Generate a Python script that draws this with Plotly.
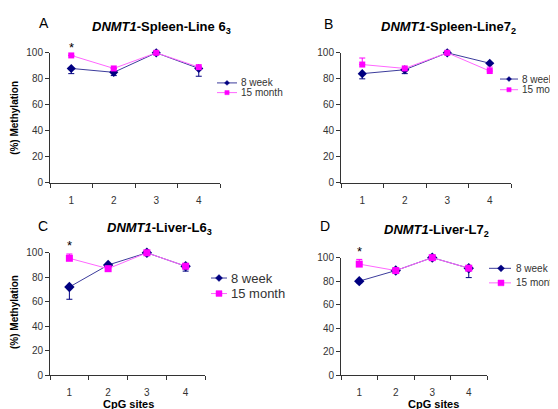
import plotly.graph_objects as go

W, H = 558, 409

sites = [1, 2, 3, 4]
site_labels = ["1", "2", "3", "4"]
yticks = [0, 20, 40, 60, 80, 100]

# Panel A: DNMT1-Spleen-Line 6_3
a_8wk = [88, 85, 100, 88]
a_8wk_err = [4, 2.5, 0, 6]
a_15m = [98, 88, 100, 89]
a_15m_err = [0, 0, 0, 0]

# Panel B: DNMT1-Spleen-Line7_2
b_8wk = [84, 87, 100, 92]
b_8wk_err = [4, 3, 0, 0]
b_15m = [91, 88, 100, 86]
b_15m_err = [5, 0, 0, 3]

# Panel C: DNMT1-Liver-L6_3
c_8wk = [72, 90, 100, 89]
c_8wk_err = [10, 0, 0, 4]
c_15m = [95.5, 87, 100, 89]
c_15m_err = [3.5, 0, 0, 0]

# Panel D: DNMT1-Liver-L7_2
d_8wk = [80, 89, 100, 91]
d_8wk_err = [1.5, 2, 0, 8]
d_15m = [94.5, 89, 100, 91]
d_15m_err = [4, 0, 0, 0]

series_names = ["8 week", "15 month"]

NAVY = "#000080"
NAVY_LINE = "#3c3c9c"
MAG = "#ff00ff"
MAG_LINE = "#ff66ff"
AX = "#333333"
FONT = "Liberation Sans, Arial, sans-serif"


def px(x):
    return x / W


def py(y):
    return 1 - y / H


panels = [
    dict(d8=a_8wk, e8=a_8wk_err, d15=a_15m, e15=a_15m_err,
         xd=(42, 212), yd=(40, 174), ms=(7, 6), star=31),
    dict(d8=b_8wk, e8=b_8wk_err, d15=b_15m, e15=b_15m_err,
         xd=(333, 503), yd=(40, 174), ms=(7, 6), star=None),
    dict(d8=c_8wk, e8=c_8wk_err, d15=c_15m, e15=c_15m_err,
         xd=(42, 197), yd=(246, 372), ms=(8, 7), star=235),
    dict(d8=d_8wk, e8=d_8wk_err, d15=d_15m, e15=d_15m_err,
         xd=(333, 479), yd=(251, 372), ms=(8, 7), star=242),
]

fig = go.Figure()
layout = {}
annotations = []


def ann(text, x, y, size, color="#000", **kw):
    d = dict(text=text, x=px(x), y=py(y), xref="paper", yref="paper",
             xanchor="center", yanchor="middle", showarrow=False,
             font=dict(size=size, color=color, family=FONT))
    d.update(kw)
    annotations.append(d)


for i, p in enumerate(panels, start=1):
    xa = "x" if i == 1 else f"x{i}"
    ya = "y" if i == 1 else f"y{i}"
    fig.add_trace(go.Scatter(
        x=sites, y=p["d8"], xaxis=xa, yaxis=ya, name=series_names[0],
        mode="lines+markers", showlegend=False, cliponaxis=False,
        line=dict(color=NAVY_LINE, width=1),
        marker=dict(symbol="diamond", color=NAVY, size=p["ms"][0]),
        error_y=dict(type="data", symmetric=False, array=[0] * 4,
                     arrayminus=p["e8"], color=NAVY, thickness=1, width=3),
    ))
    fig.add_trace(go.Scatter(
        x=sites, y=p["d15"], xaxis=xa, yaxis=ya, name=series_names[1],
        mode="lines+markers", showlegend=False, cliponaxis=False,
        line=dict(color=MAG_LINE, width=1),
        marker=dict(symbol="square", color=MAG, size=p["ms"][1]),
        error_y=dict(type="data", symmetric=False, array=p["e15"],
                     arrayminus=[0] * 4, color=MAG, thickness=1, width=3),
    ))
    xkey = "xaxis" if i == 1 else f"xaxis{i}"
    ykey = "yaxis" if i == 1 else f"yaxis{i}"
    layout[xkey] = dict(
        domain=[px(p["xd"][0]), px(p["xd"][1])], anchor=ya,
        range=[0.5, 4.5], tickmode="array", tickvals=sites, ticktext=site_labels,
        ticks="", showline=True, linecolor=AX, linewidth=1, showgrid=False,
        zeroline=False, ticklabelstandoff=8,
        tickfont=dict(size=10, color=AX, family=FONT),
        minor=dict(tickvals=[0.5, 1.5, 2.5, 3.5, 4.5], ticks="outside",
                   ticklen=4, tickcolor=AX, showgrid=False),
    )
    layout[ykey] = dict(
        domain=[py(p["yd"][1]), py(p["yd"][0])], anchor=xa,
        range=[0, 100], tickmode="array", tickvals=yticks,
        ticks="outside", ticklen=4, tickcolor=AX,
        showline=True, linecolor=AX, linewidth=1, showgrid=False,
        zeroline=False, tickfont=dict(size=10, color=AX, family=FONT),
    )
    if p["star"] is not None:
        # star above CpG site 1 (first category centre)
        sx = p["xd"][0] + (p["xd"][1] - p["xd"][0]) * (1 - 0.5) / 4
        ann("*", sx, p["star"] + 3, 13)

# panel letters
for letter, (x, y) in zip("ABCD", [(36, 9), (320, 10), (35, 218), (317, 218)]):
    ann(letter, x, y, 14)

titles = [
    ("<b><i>DNMT1</i>-Spleen-Line 6<sub>3</sub></b>", 153, 14),
    ("<b><i>DNMT1</i>-Spleen-Line7<sub>2</sub></b>", 440, 14),
    ("<b><i>DNMT1</i>-Liver-L6<sub>3</sub></b>", 151, 221),
    ("<b><i>DNMT1</i>-Liver-L7<sub>2</sub></b>", 428, 223),
]
for t, x, y in titles:
    ann(t, x, y, 13)

# y-axis titles
for yc in [107, 307]:
    ann("<b>(%) Methylation</b>", 7, yc, 10, textangle=-90)

# x-axis titles
for xc in [120, 425]:
    ann("<b>CpG sites</b>", xc, 402, 11)

# manual legends
shapes = []
legends = [
    (209, 229, 219, 231, 71, 81, 10, 2.5),
    (492, 510, 501, 512, 67, 78, 10, 2.5),
    (203, 219, 211, 221, 272, 288, 13, 3.5),
    (481, 503, 493, 506, 262, 277, 10, 3.5),
]
for x0, x1, mx, tx, y1, y2, fs, r in legends:
    for (yy, name, lc, mc, sym) in [(y1, series_names[0], NAVY_LINE, NAVY, "d"),
                                    (y2, series_names[1], MAG_LINE, MAG, "s")]:
        shapes.append(dict(type="line", xref="paper", yref="paper",
                           x0=px(x0), x1=px(x1), y0=py(yy), y1=py(yy),
                           line=dict(color=lc, width=1)))
        if sym == "d":
            path = (f"M {px(mx - r)} {py(yy)} L {px(mx)} {py(yy - r)} "
                    f"L {px(mx + r)} {py(yy)} L {px(mx)} {py(yy + r)} Z")
        else:
            rr = r * 0.85
            path = (f"M {px(mx - rr)} {py(yy - rr)} L {px(mx + rr)} {py(yy - rr)} "
                    f"L {px(mx + rr)} {py(yy + rr)} L {px(mx - rr)} {py(yy + rr)} Z")
        shapes.append(dict(type="path", xref="paper", yref="paper", path=path,
                           fillcolor=mc, line=dict(color=mc, width=0.5)))
        ann(name, tx, yy, fs, color=AX, xanchor="left")

fig.update_layout(
    width=W, height=H, margin=dict(l=0, r=0, t=0, b=0),
    paper_bgcolor="white", plot_bgcolor="white",
    showlegend=False, annotations=annotations, shapes=shapes,
    font=dict(family=FONT),
    **layout,
)

fig.write_html("out.html")
